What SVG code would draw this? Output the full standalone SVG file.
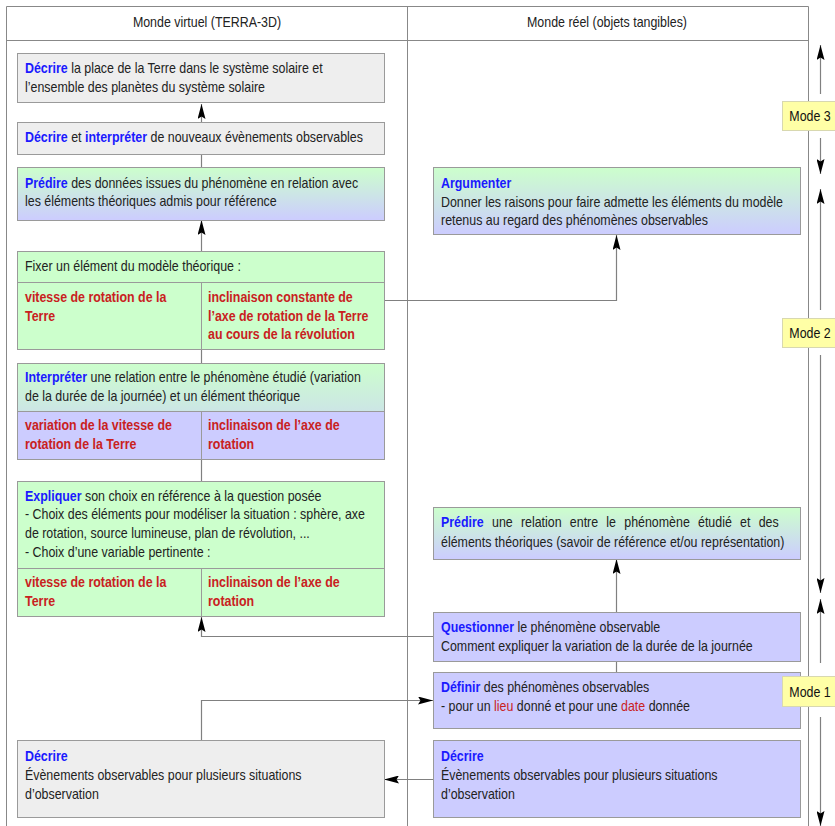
<svg xmlns="http://www.w3.org/2000/svg" width="835" height="826" viewBox="0 0 835 826">
  <style>
    text { font-family: "Liberation Sans", Arial, sans-serif; font-size: 14px; fill: #222222;
           transform-box: fill-box; transform-origin: 0 50%; transform: scaleX(0.887); }
    .hdr { text-anchor: middle; transform-origin: 50% 50%; }
    .kw { fill: #1a1aff; font-weight: bold; }
    .red { fill: #c9211e; font-weight: bold; }
    .redn { fill: #c9211e; }
    .just { word-spacing: 5.4px; }
    .frame { fill: none; stroke: #888888; stroke-width: 1; }
    .box { stroke: #9a9a9a; stroke-width: 1; }
    .gray { fill: #eeeeee; }
    .green { fill: #ccffcc; }
    .blue { fill: #ccccff; }
    .mix { fill: url(#gb); }
    .sep { stroke: #9a9a9a; stroke-width: 1; fill: none; }
    .wire { stroke: #808080; stroke-width: 1.2; fill: none; }
    .arr { marker-end: url(#head); }
    .mode { fill: #ffffa6; stroke: #d8d8b0; stroke-width: 1; }
    .modetxt { text-anchor: middle; transform-origin: 50% 50%; fill: #111111; }
  </style>
  <defs>
    <linearGradient id="gb" x1="0" y1="0" x2="0" y2="1">
      <stop offset="0" stop-color="#ccffcc"/>
      <stop offset="1" stop-color="#ccccff"/>
    </linearGradient>
    <marker id="head" viewBox="0 0 15 8" markerWidth="15" markerHeight="8" refX="15" refY="4" orient="auto" markerUnits="userSpaceOnUse">
      <path d="M15,4 L0,0 L2.5,4 L0,8 Z" fill="#000000"/>
    </marker>
  </defs>

  <!-- table frame with two columns -->
  <g id="frame">
    <path class="frame" d="M6.5,826 V6.5 H808.5 V826 M6.5,40.5 H808.5 M407.5,6.5 V826"/>
    <text class="hdr" x="207" y="27">Monde virtuel (TERRA-3D)</text>
    <text class="hdr" x="607" y="27">Monde réel (objets tangibles)</text>
  </g>

  <!-- connectors -->
  <g id="connectors">
    <path class="wire arr" d="M201.5,122 V104"/>
    <path class="wire" d="M201.5,154 V167"/>
    <path class="wire arr" d="M201.5,251 V220"/>
    <path class="wire" d="M201.5,349 V363"/>
    <path class="wire" d="M201.5,459 V481"/>
    <path class="wire arr" d="M384,300.5 H616.5 V235"/>
    <path class="wire arr" d="M433,636.5 H201.5 V617"/>
    <path class="wire arr" d="M616.5,612 V559"/>
    <path class="wire" d="M616.5,661 V672"/>
    <path class="wire arr" d="M201.5,740 V700.5 H433"/>
    <path class="wire arr" d="M433,779.5 H384"/>
    <!-- mode ranges -->
    <path class="wire arr" d="M820.5,94 V45"/>
    <path class="wire arr" d="M820.5,138 V174"/>
    <path class="wire arr" d="M820.5,310 V189"/>
    <path class="wire arr" d="M820.5,355 V593"/>
    <path class="wire arr" d="M820.5,663 V599"/>
    <path class="wire arr" d="M820.5,717 V826"/>
  </g>

  <!-- virtual world column -->
  <g id="decrire-place">
    <rect class="box gray" x="17.5" y="53.5" width="367" height="49"/>
    <text x="25" y="73"><tspan class="kw">Décrire</tspan> la place de la Terre dans le système solaire et</text>
    <text x="25" y="92">l’ensemble des planètes du système solaire</text>
  </g>

  <g id="decrire-interpreter">
    <rect class="box gray" x="17.5" y="122.5" width="367" height="32"/>
    <text x="25" y="142"><tspan class="kw">Décrire</tspan> et <tspan class="kw">interpréter</tspan> de nouveaux évènements observables</text>
  </g>

  <g id="predire-donnees">
    <rect class="box mix" x="17.5" y="167.5" width="367" height="53"/>
    <text x="25" y="188"><tspan class="kw">Prédire</tspan> des données issues du phénomène en relation avec</text>
    <text x="25" y="206">les éléments théoriques admis pour référence</text>
  </g>

  <g id="fixer">
    <rect class="box green" x="17.5" y="251.5" width="367" height="98"/>
    <path class="sep" d="M17.5,282.5 H384.5 M201.5,282.5 V349.5"/>
    <text x="25" y="271">Fixer un élément du modèle théorique :</text>
    <text class="red" x="25" y="302">vitesse de rotation de la</text>
    <text class="red" x="25" y="321">Terre</text>
    <text class="red" x="208" y="302">inclinaison constante de</text>
    <text class="red" x="208" y="321">l’axe de rotation de la Terre</text>
    <text class="red" x="208" y="339">au cours de la révolution</text>
  </g>

  <g id="interpreter">
    <rect class="box mix" x="17.5" y="363.5" width="367" height="96"/>
    <rect class="blue" x="18" y="411.5" width="366" height="47.5"/>
    <path class="sep" d="M17.5,411.5 H384.5 M201.5,411.5 V459.5"/>
    <text x="25" y="382"><tspan class="kw">Interpréter</tspan> une relation entre le phénomène étudié (variation</text>
    <text x="25" y="401">de la durée de la journée) et un élément théorique</text>
    <text class="red" x="25" y="430">variation de la vitesse de</text>
    <text class="red" x="25" y="449">rotation de la Terre</text>
    <text class="red" x="208" y="430">inclinaison de l’axe de</text>
    <text class="red" x="208" y="449">rotation</text>
  </g>

  <g id="expliquer">
    <rect class="box green" x="17.5" y="481.5" width="367" height="135"/>
    <path class="sep" d="M17.5,568.5 H384.5 M201.5,568.5 V616.5"/>
    <text x="25" y="501"><tspan class="kw">Expliquer</tspan> son choix en référence à la question posée</text>
    <text x="25" y="519">- Choix des éléments pour modéliser la situation : sphère, axe</text>
    <text x="25" y="538">de rotation, source lumineuse, plan de révolution, ...</text>
    <text x="25" y="557">- Choix d’une variable pertinente :</text>
    <text class="red" x="25" y="587">vitesse de rotation de la</text>
    <text class="red" x="25" y="606">Terre</text>
    <text class="red" x="208" y="587">inclinaison de l’axe de</text>
    <text class="red" x="208" y="606">rotation</text>
  </g>

  <g id="decrire-virtuel">
    <rect class="box gray" x="17.5" y="740.5" width="367" height="77"/>
    <text class="kw" x="25" y="761">Décrire</text>
    <text x="25" y="780">Évènements observables pour plusieurs situations</text>
    <text x="25" y="799">d’observation</text>
  </g>

  <!-- real world column -->
  <g id="argumenter">
    <rect class="box mix" x="433.5" y="167.5" width="367" height="67"/>
    <text class="kw" x="441" y="188">Argumenter</text>
    <text x="441" y="207">Donner les raisons pour faire admette les éléments du modèle</text>
    <text x="441" y="225">retenus au regard des phénomènes observables</text>
  </g>

  <g id="predire-relation">
    <rect class="box mix" x="433.5" y="507.5" width="367" height="52"/>
    <text class="just" x="441" y="527"><tspan class="kw">Prédire</tspan> une relation entre le phénomène étudié et des</text>
    <text x="441" y="547">éléments théoriques (savoir de référence et/ou représentation)</text>
  </g>

  <g id="questionner">
    <rect class="box blue" x="433.5" y="612.5" width="367" height="49"/>
    <text x="441" y="632"><tspan class="kw">Questionner</tspan> le phénomène observable</text>
    <text x="441" y="651">Comment expliquer la variation de la durée de la journée</text>
  </g>

  <g id="definir">
    <rect class="box blue" x="433.5" y="672.5" width="367" height="56"/>
    <text x="441" y="692"><tspan class="kw">Définir</tspan> des phénomènes observables</text>
    <text x="441" y="711">- pour un <tspan class="redn">lieu</tspan> donné et pour une <tspan class="redn">date</tspan> donnée</text>
  </g>

  <g id="decrire-reel">
    <rect class="box blue" x="433.5" y="740.5" width="367" height="77"/>
    <text class="kw" x="441" y="761">Décrire</text>
    <text x="441" y="780">Évènements observables pour plusieurs situations</text>
    <text x="441" y="799">d’observation</text>
  </g>

  <!-- mode labels -->
  <g id="mode3">
    <rect class="mode" x="782.5" y="101.5" width="53" height="29"/>
    <text class="modetxt" x="810" y="121">Mode 3</text>
  </g>
  <g id="mode2">
    <rect class="mode" x="782.5" y="318.5" width="53" height="29"/>
    <text class="modetxt" x="810" y="338">Mode 2</text>
  </g>
  <g id="mode1">
    <rect class="mode" x="782.5" y="676.5" width="53" height="30"/>
    <text class="modetxt" x="810" y="697">Mode 1</text>
  </g>
</svg>
